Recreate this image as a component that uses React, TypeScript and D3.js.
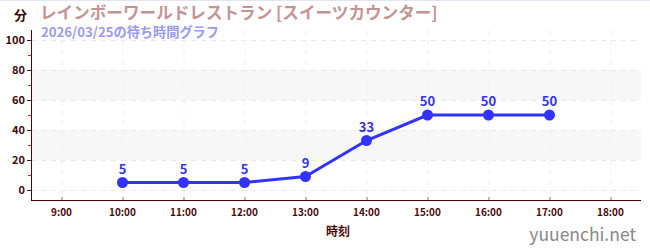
import React from "react";
import * as d3 from "d3";

const hours = [10, 11, 12, 13, 14, 15, 16, 17];
const waits = [5, 5, 5, 9, 33, 50, 50, 50];
const xTicks = [9, 10, 11, 12, 13, 14, 15, 16, 17, 18];
const yTicks = [0, 20, 40, 60, 80, 100];
const yMinor = [10, 30, 50, 70, 90];
const bands = [[20, 40], [60, 80]];
const title = "レインボーワールドレストラン [スイーツカウンター]";
const subtitle = "2026/03/25の待ち時間グラフ";

const FONT = "'Noto Sans CJK JP', 'Noto Sans', sans-serif";

export default function App() {
  const W = 650, H = 250;
  const left = 31, right = 641, top = 30, bottom = 200;
  const x = d3.scaleLinear().domain([8.5, 18.5]).range([left, right]);
  const y = d3.scaleLinear().domain([-20 / 3, 320 / 3]).range([bottom, top]);
  const line = d3.line<number>().x((_, i) => x(hours[i])).y((d) => y(d));
  return (
    <svg width={W} height={H} style={{ position: "absolute", left: 0, top: 0, fontFamily: FONT }}>
      <rect x={0} y={0} width={W} height={H} fill="#fff" />
      <line x1={0} x2={W} y1={0.5} y2={0.5} stroke="#e4e4f4" />
      {bands.map(([a, b], i) => (
        <rect key={i} x={left} width={right - left} y={y(b)} height={y(a) - y(b)} fill="#f7f7f7" />
      ))}
      {yTicks.map((t) => (
        <line key={t} x1={left} x2={right} y1={y(t) + 0.5} y2={y(t) + 0.5} stroke="#e8e8e8" strokeDasharray="5,5" />
      ))}
      {xTicks.map((t) => (
        <line key={t} x1={x(t) + 0.5} x2={x(t) + 0.5} y1={top} y2={bottom} stroke="#eeeeee" strokeDasharray="5,5" />
      ))}
      <line x1={left + 0.5} x2={left + 0.5} y1={top} y2={bottom} stroke="#5a0000" />
      <line x1={left} x2={right} y1={bottom + 0.5} y2={bottom + 0.5} stroke="#5a0000" />
      {yTicks.map((t) => (
        <g key={t}>
          <line x1={left - 4} x2={left} y1={y(t) + 0.5} y2={y(t) + 0.5} stroke="#222" />
          <text x={left - 6} y={y(t) + 4} textAnchor="end" fontSize={11} fontWeight="bold" fill="#3a0a0a">{t}</text>
        </g>
      ))}
      {yMinor.map((t) => (
        <line key={t} x1={left - 3} x2={left} y1={y(t) + 0.5} y2={y(t) + 0.5} stroke="#d02020" />
      ))}
      {xTicks.map((t) => (
        <g key={t}>
          <line x1={x(t) + 0.5} x2={x(t) + 0.5} y1={bottom - 3} y2={bottom} stroke="#777" />
          <text x={x(t)} y={bottom + 16} textAnchor="middle" fontSize={10} fontWeight="bold" fill="#4a0a0a">
            {`${t}:00`}
          </text>
        </g>
      ))}
      <path d={line(waits) || ""} fill="none" stroke="#3333ff" strokeWidth={3} />
      {waits.map((v, i) => (
        <g key={i}>
          <circle cx={x(hours[i])} cy={y(v)} r={5.5} fill="#3333ff" />
          <text x={x(hours[i])} y={y(v) - 9} textAnchor="middle" fontSize={13} fontWeight="bold" fill="#3333ee">{v}</text>
        </g>
      ))}
      <text x={14} y={20} fontSize={13} fontWeight="bold" fill="#3a0a0a">分</text>
      <text x={40} y={19} fontSize={16.6} fontWeight="bold" fill="#c49494">{title}</text>
      <text x={41} y={37} fontSize={13.2} fontWeight="bold" fill="#9a9af0">{subtitle}</text>
      <text x={338} y={236} textAnchor="middle" fontSize={12} fontWeight="bold" fill="#4a0a0a">時刻</text>
      <text x={636} y={241} textAnchor="end" fontSize={17.5} fill="#888">yuuenchi.net</text>
    </svg>
  );
}
